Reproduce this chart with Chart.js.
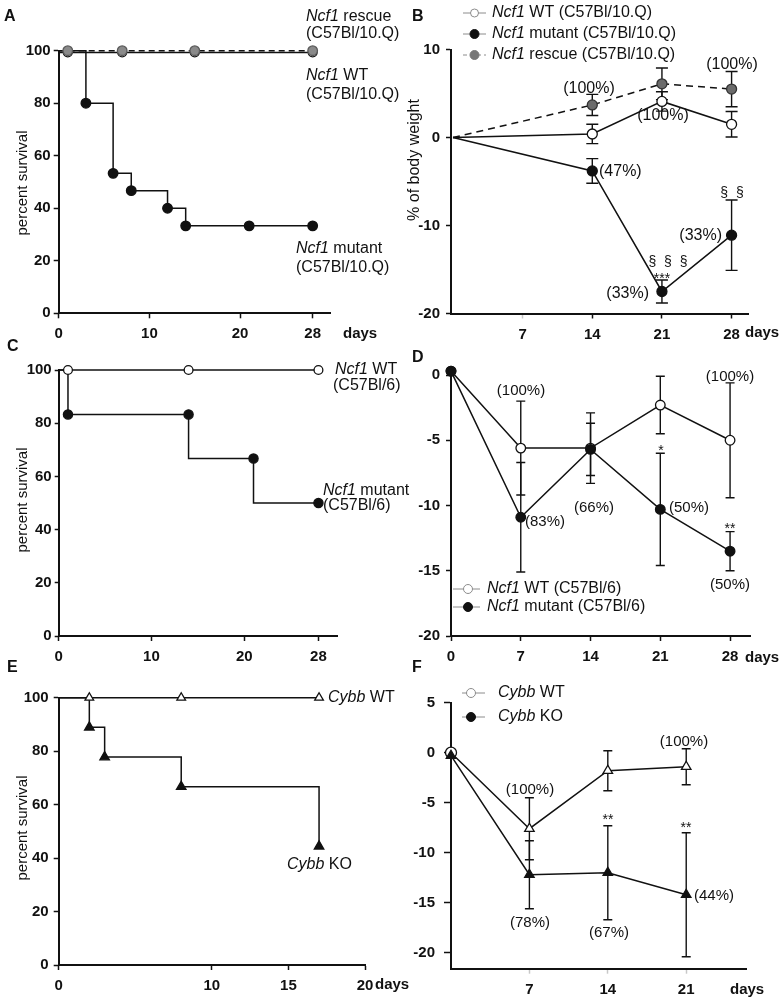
<!DOCTYPE html>
<html>
<head>
<meta charset="utf-8">
<title>Ncf1 / Cybb survival and body weight</title>
<script src="https://cdn.jsdelivr.net/npm/chart.js@4.4.1/dist/chart.umd.min.js"></script>
<style>
  html, body { margin: 0; padding: 0; background: #fff; }
  #fig { position: relative; width: 781px; height: 1002px; overflow: hidden; }
  #fig canvas { position: absolute; left: 0; top: 0; }
</style>
</head>
<body>
<div id="fig">
  <canvas id="panelA" width="781" height="1002"></canvas>
  <canvas id="panelB" width="781" height="1002"></canvas>
  <canvas id="panelC" width="781" height="1002"></canvas>
  <canvas id="panelD" width="781" height="1002"></canvas>
  <canvas id="panelE" width="781" height="1002"></canvas>
  <canvas id="panelF" width="781" height="1002"></canvas>
</div>
<script>
/* ── data ─────────────────────────────────────── */

// shared survival axis
const survTicksY = [0, 20, 40, 60, 80, 100];

// A — survival, C57Bl/10.Q
const aTicksX = [0, 10, 20, 28];
const aResDays = [0, 1, 7, 15, 28];
const aResPct  = [100, 100, 100, 100, 100];
const aWtDays  = [0, 1, 7, 15, 28];
const aWtPct   = [99.3, 99.3, 99.3, 99.3, 99.3];
const aMutStepDays = [0, 3, 6, 8, 12, 14, 28];
const aMutStepPct  = [100, 80, 53.3, 46.7, 40, 33.3, 33.3];
const aMutDays = [3, 6, 8, 12, 14, 21, 28];
const aMutPct  = [80, 53.3, 46.7, 40, 33.3, 33.3, 33.3];

// B — body weight change (%), C57Bl/10.Q
const bTicksX = [7, 14, 21, 28];
const bTicksY = [-20, -10, 0, 10];
const bDays   = [0, 14, 21, 28];
const bWt     = [0, 0.4, 4.1, 1.5];
const bWtErr  = [0, 1.1, 1.1, 1.45];
const bMut    = [0, -3.8, -17.5, -11.1];
const bMutErr = [0, 1.4, 1.3, 4.0];
const bRes    = [0, 3.7, 6.1, 5.5];
const bResErr = [0, 1.2, 1.8, 2.0];

// C — survival, C57Bl/6
const cTicksX = [0, 10, 20, 28];
const cWtDays = [0, 1, 14, 28];
const cWtPct  = [100, 100, 100, 100];
const cMutStepDays = [0, 1, 14, 21, 28];
const cMutStepPct  = [100, 83.3, 66.7, 50, 50];
const cMutDays = [1, 14, 21, 28];
const cMutPct  = [83.3, 83.3, 66.7, 50];

// D — body weight change (%), C57Bl/6
const dTicksX = [0, 7, 14, 21, 28];
const dTicksY = [-20, -15, -10, -5, 0];
const dDays   = [0, 7, 14, 21, 28];
const dWt     = [0.3, -5.6, -5.6, -2.3, -5.0];
const dWtErr  = [0, 3.6, 2.7, 2.2, 4.4];
const dMut    = [0.3, -10.9, -5.7, -10.3, -13.5];
const dMutErr = [0, 4.2, 2.0, 4.3, 1.5];

// E — survival, Cybb
const eTicksX = [0, 10, 15, 20];
const eWtDays = [0, 2, 8, 17];
const eWtPct  = [100, 100, 100, 100];
const eKoStepDays = [0, 2, 3, 8, 17];
const eKoStepPct  = [100, 88.9, 77.8, 66.7, 44.4];
const eKoDays = [2, 3, 8, 17];
const eKoPct  = [88.9, 77.8, 66.7, 44.4];

// F — body weight change (%), Cybb
const fTicksX = [7, 14, 21];
const fTicksY = [-20, -15, -10, -5, 0, 5];
const fDays   = [0, 7, 14, 21];
const fWt     = [0, -7.6, -1.8, -1.4];
const fWtErr  = [0, 3.1, 2.0, 1.8];
const fKo     = [-0.3, -12.2, -12.0, -14.2];
const fKoErr  = [0, 3.4, 4.7, 6.2];

/* ── drawing helpers ──────────────────────────── */
const W = 781, H = 1002;
const YW = 44, XH = 34;            // fixed axis box sizes
const FONT = "'Liberation Sans', Arial, Helvetica, sans-serif";
const INK = '#111';

const pts = (xs, ys) => xs.map((x, i) => ({ x, y: ys[i] }));
const hideFirst = r => ctx => (ctx.dataIndex === 0 ? 0 : r);

function series(xs, ys, extra) {
  return Object.assign({
    data: pts(xs, ys),
    borderColor: INK, borderWidth: 1.5,
    pointBackgroundColor: INK, pointBorderColor: INK, pointBorderWidth: 1.3,
    pointRadius: 4.6, pointHoverRadius: 4.6,
    tension: 0, clip: false,
  }, extra);
}

function axis(o, horizontal) {
  return {
    type: 'linear', bounds: 'data', min: o.min, max: o.max,
    afterBuildTicks: s => { s.ticks = o.ticks.map(v => ({ value: v })); },
    afterFit: s => { if (horizontal) s.height = XH; else s.width = YW; },
    grid: {
      drawOnChartArea: false, drawTicks: true,
      tickLength: o.tick || 5, tickWidth: 1.5,
      tickColor: o.tickColor || INK, color: INK,
    },
    border: { display: true, color: INK, width: 2 },
    ticks: {
      color: INK, padding: o.pad, autoSkip: false, maxRotation: 0,
      callback: v => String(v),
      font: { family: FONT, size: 15, weight: 'bold' },
    },
  };
}

// vertical error bars, drawn under the markers
const errorBars = {
  id: 'errorBars',
  beforeDatasetsDraw(chart) {
    const { ctx } = chart, y = chart.scales.y;
    chart.data.datasets.forEach((ds, i) => {
      if (!ds.errors) return;
      const half = ds.capHalf || 5;
      ctx.save();
      ctx.strokeStyle = INK; ctx.lineWidth = 1.4;
      chart.getDatasetMeta(i).data.forEach((pt, j) => {
        const e = ds.errors[j];
        if (!e) return;
        const v = ds.data[j].y;
        const top = y.getPixelForValue(v + e), bot = y.getPixelForValue(v - e);
        ctx.beginPath();
        ctx.moveTo(pt.x, top); ctx.lineTo(pt.x, bot);
        ctx.moveTo(pt.x - half, top); ctx.lineTo(pt.x + half, top);
        ctx.moveTo(pt.x - half, bot); ctx.lineTo(pt.x + half, bot);
        ctx.stroke();
      });
      ctx.restore();
    });
  },
};

// free text (mixed italic / upright runs)
function textLayer(items) {
  return {
    id: 'textLayer',
    afterDraw(chart) {
      const ctx = chart.ctx;
      items.forEach(it => {
        const size = it.size || 16;
        const runs = typeof it.text === 'string' ? [[it.text, false]] : it.text;
        const fontOf = r => `${r[1] ? 'italic ' : ''}${it.bold ? 'bold ' : ''}${size}px ${FONT}`;
        ctx.save();
        ctx.fillStyle = INK; ctx.textBaseline = 'middle'; ctx.textAlign = 'left';
        let total = 0;
        runs.forEach(r => { ctx.font = fontOf(r); total += ctx.measureText(r[0]).width; });
        ctx.translate(it.x, it.y);
        if (it.rotate) ctx.rotate(-Math.PI / 2);
        let x = it.align === 'center' ? -total / 2 : it.align === 'right' ? -total : 0;
        runs.forEach(r => { ctx.font = fontOf(r); ctx.fillText(r[0], x, 0); x += ctx.measureText(r[0]).width; });
        ctx.restore();
      });
    },
  };
}

// hand-placed legend swatches (line + marker)
function legendLayer(rows) {
  return {
    id: 'legendLayer',
    afterDraw(chart) {
      const ctx = chart.ctx;
      rows.forEach(r => {
        ctx.save();
        ctx.strokeStyle = '#8c8c8c'; ctx.lineWidth = 1;
        if (r.dash) ctx.setLineDash(r.dash);
        ctx.beginPath(); ctx.moveTo(r.x0, r.y); ctx.lineTo(r.x1, r.y); ctx.stroke();
        ctx.setLineDash([]);
        ctx.beginPath(); ctx.arc(r.mx, r.y, r.r, 0, Math.PI * 2);
        ctx.fillStyle = r.fill; ctx.fill();
        ctx.strokeStyle = r.stroke; ctx.lineWidth = 1; ctx.stroke();
        ctx.restore();
      });
    },
  };
}

// one panel = one full-page canvas, chart area placed by padding
function panel(id, box, x, y, datasets, text, legend) {
  new Chart(document.getElementById(id), {
    type: 'line',
    data: { datasets },
    options: {
      responsive: false, animation: false, events: [],
      layout: { padding: { left: box.l - YW, top: box.t, right: W - box.r, bottom: H - box.b - XH } },
      plugins: { legend: { display: false }, tooltip: { enabled: false } },
      scales: { x: axis(x, true), y: axis(y, false) },
    },
    plugins: [errorBars, textLayer(text), legendLayer(legend || [])],
  });
}

const nm = (gene, rest) => [[gene, true], [rest, false]];

// ─────────────────── A ───────────────────
panel('panelA', { l: 58.7, t: 50.7, r: 330.8, b: 313.3 },
  { min: 0, max: 30, ticks: aTicksX, pad: 7 },
  { min: 0, max: 100, ticks: survTicksY, pad: 3 },
  [
    series(aResDays, aResPct, { borderDash: [6, 4], pointBackgroundColor: '#8a8a8a', pointBorderColor: '#5a5a5a', pointRadius: hideFirst(4.8) }),
    series(aWtDays, aWtPct, { pointBackgroundColor: '#fff', pointRadius: hideFirst(4.4) }),
    series(aMutStepDays, aMutStepPct, { stepped: 'before', pointRadius: 0 }),
    series(aMutDays, aMutPct, { showLine: false, pointRadius: 4.8 }),
  ],
  [
    { x: 4, y: 16.5, text: 'A', size: 16, bold: true },
    { x: 306, y: 17, text: nm('Ncf1', ' rescue') },
    { x: 306, y: 34, text: '(C57Bl/10.Q)' },
    { x: 306, y: 76, text: nm('Ncf1', ' WT') },
    { x: 306, y: 95, text: '(C57Bl/10.Q)' },
    { x: 296, y: 249, text: nm('Ncf1', ' mutant') },
    { x: 296, y: 267.5, text: '(C57Bl/10.Q)' },
    { x: 23, y: 183, text: 'percent survival', size: 15, rotate: true, align: 'center' },
    { x: 343, y: 334, text: 'days', size: 15, bold: true },
  ]);

// ─────────────────── B ───────────────────
panel('panelB', { l: 451, t: 49.5, r: 748, b: 313.5 },
  { min: -0.2, max: 29.65, ticks: bTicksX, pad: 7, tickColor: c => (c.tick && c.tick.value === 7 ? '#c8c8c8' : INK) },
  { min: -20, max: 10, ticks: bTicksY, pad: 6 },
  [
    series(bDays, bRes, { borderDash: [7, 5], pointBackgroundColor: '#6b6b6b', pointBorderColor: '#333', pointRadius: hideFirst(5), errors: bResErr, capHalf: 6 }),
    series(bDays, bWt, { pointBackgroundColor: '#fff', pointRadius: hideFirst(5), errors: bWtErr, capHalf: 6 }),
    series(bDays, bMut, { pointRadius: hideFirst(5), errors: bMutErr, capHalf: 6 }),
  ],
  [
    { x: 412, y: 17, text: 'B', size: 16, bold: true },
    { x: 492, y: 13, text: nm('Ncf1', ' WT (C57Bl/10.Q)') },
    { x: 492, y: 34, text: nm('Ncf1', ' mutant (C57Bl/10.Q)') },
    { x: 492, y: 55, text: nm('Ncf1', ' rescue (C57Bl/10.Q)') },
    { x: 589, y: 89, text: '(100%)', align: 'center' },
    { x: 663, y: 116, text: '(100%)', align: 'center' },
    { x: 732, y: 65, text: '(100%)', align: 'center' },
    { x: 599, y: 172, text: '(47%)' },
    { x: 668, y: 262, text: '§  §  §', size: 14, align: 'center' },
    { x: 662, y: 279, text: '***', size: 14, align: 'center' },
    { x: 649, y: 294, text: '(33%)', align: 'right' },
    { x: 732, y: 193, text: '§  §', size: 14, align: 'center' },
    { x: 722, y: 236, text: '(33%)', align: 'right' },
    { x: 415, y: 160, text: '% of body weight', size: 16, rotate: true, align: 'center' },
    { x: 745, y: 333, text: 'days', size: 15, bold: true },
  ],
  [
    { x0: 463, x1: 486, mx: 474.5, y: 13, r: 4, fill: '#fff', stroke: '#8c8c8c' },
    { x0: 463, x1: 486, mx: 474.5, y: 34, r: 4.5, fill: INK, stroke: INK },
    { x0: 463, x1: 486, mx: 474.5, y: 55, r: 4.5, fill: '#777', stroke: '#777', dash: [4, 3] },
  ]);

// ─────────────────── C ───────────────────
panel('panelC', { l: 58.7, t: 370, r: 337, b: 636 },
  { min: 0, max: 30, ticks: cTicksX, pad: 7 },
  { min: 0, max: 100, ticks: survTicksY, pad: 3, tick: 4 },
  [
    series(cWtDays, cWtPct, { pointBackgroundColor: '#fff', pointRadius: hideFirst(4.4) }),
    series(cMutStepDays, cMutStepPct, { stepped: 'before', pointRadius: 0 }),
    series(cMutDays, cMutPct, { showLine: false, pointRadius: 4.6 }),
  ],
  [
    { x: 7, y: 347, text: 'C', size: 16, bold: true },
    { x: 335, y: 370, text: nm('Ncf1', ' WT') },
    { x: 333, y: 386, text: '(C57Bl/6)' },
    { x: 323, y: 491, text: nm('Ncf1', ' mutant') },
    { x: 323, y: 506, text: '(C57Bl/6)' },
    { x: 23, y: 500, text: 'percent survival', size: 15, rotate: true, align: 'center' },
  ]);

// ─────────────────── D ───────────────────
panel('panelD', { l: 451, t: 369.8, r: 750, b: 636 },
  { min: 0, max: 30, ticks: dTicksX, pad: 7 },
  { min: -20, max: 0.4, ticks: dTicksY, pad: 6 },
  [
    series(dDays, dMut, { pointRadius: 4.8, errors: dMutErr, capHalf: 4.5 }),
    series(dDays, dWt, { pointBackgroundColor: '#fff', pointRadius: 4.8, errors: dWtErr, capHalf: 4.5 }),
  ],
  [
    { x: 412, y: 358, text: 'D', size: 16, bold: true },
    { x: 521, y: 391, text: '(100%)', size: 15, align: 'center' },
    { x: 730, y: 377, text: '(100%)', size: 15, align: 'center' },
    { x: 594, y: 508, text: '(66%)', size: 15, align: 'center' },
    { x: 525, y: 522, text: '(83%)', size: 15 },
    { x: 661, y: 451, text: '*', size: 14, align: 'center' },
    { x: 669, y: 508, text: '(50%)', size: 15 },
    { x: 730, y: 529, text: '**', size: 14, align: 'center' },
    { x: 730, y: 585, text: '(50%)', size: 15, align: 'center' },
    { x: 487, y: 589, text: nm('Ncf1', ' WT (C57Bl/6)') },
    { x: 487, y: 607, text: nm('Ncf1', ' mutant (C57Bl/6)') },
    { x: 745, y: 658, text: 'days', size: 15, bold: true },
  ],
  [
    { x0: 453, x1: 480, mx: 468, y: 589, r: 4.5, fill: '#fff', stroke: '#8c8c8c' },
    { x0: 453, x1: 480, mx: 468, y: 607, r: 4.5, fill: INK, stroke: INK },
  ]);

// ─────────────────── E ───────────────────
panel('panelE', { l: 58.7, t: 697.7, r: 365, b: 965 },
  { min: 0, max: 20, ticks: eTicksX, pad: 7 },
  { min: 0, max: 100, ticks: survTicksY, pad: 5 },
  [
    series(eWtDays, eWtPct, { pointStyle: 'triangle', pointBackgroundColor: '#fff', pointRadius: hideFirst(5) }),
    series(eKoStepDays, eKoStepPct, { stepped: 'before', pointRadius: 0 }),
    series(eKoDays, eKoPct, { showLine: false, pointStyle: 'triangle', pointRadius: 5.5 }),
  ],
  [
    { x: 7, y: 668, text: 'E', size: 16, bold: true },
    { x: 328, y: 698, text: nm('Cybb', ' WT') },
    { x: 287, y: 865, text: nm('Cybb', ' KO') },
    { x: 23, y: 828, text: 'percent survival', size: 15, rotate: true, align: 'center' },
    { x: 375, y: 985, text: 'days', size: 15, bold: true },
  ]);

// ─────────────────── F ───────────────────
panel('panelF', { l: 451, t: 702.7, r: 746.7, b: 968.7 },
  { min: 0, max: 26.4, ticks: fTicksX, pad: 7, tickColor: '#c8c8c8' },
  { min: -21.6, max: 5, ticks: fTicksY, pad: 9, tick: 7 },
  [
    series(fDays, fKo, { pointStyle: 'triangle', pointRadius: 5.5, errors: fKoErr, capHalf: 4.5 }),
    series(fDays, fWt, { pointStyle: c => (c.dataIndex === 0 ? 'circle' : 'triangle'), pointBackgroundColor: '#fff', pointRadius: 5.5, errors: fWtErr, capHalf: 4.5 }),
  ],
  [
    { x: 412, y: 668, text: 'F', size: 16, bold: true },
    { x: 498, y: 693, text: nm('Cybb', ' WT') },
    { x: 498, y: 717, text: nm('Cybb', ' KO') },
    { x: 530, y: 790, text: '(100%)', size: 15, align: 'center' },
    { x: 684, y: 742, text: '(100%)', size: 15, align: 'center' },
    { x: 608, y: 820, text: '**', size: 14, align: 'center' },
    { x: 686, y: 828, text: '**', size: 14, align: 'center' },
    { x: 530, y: 923, text: '(78%)', size: 15, align: 'center' },
    { x: 609, y: 933, text: '(67%)', size: 15, align: 'center' },
    { x: 694, y: 896, text: '(44%)', size: 15 },
    { x: 730, y: 990, text: 'days', size: 15, bold: true },
  ],
  [
    { x0: 462, x1: 485, mx: 471, y: 693, r: 4.5, fill: '#fff', stroke: '#8c8c8c' },
    { x0: 462, x1: 485, mx: 471, y: 717, r: 4.5, fill: INK, stroke: INK },
  ]);
</script>
</body>
</html>
